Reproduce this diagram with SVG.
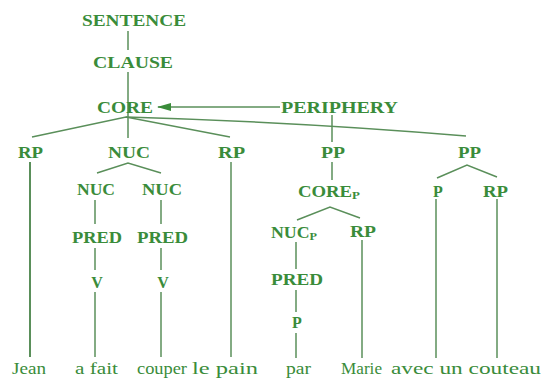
<svg xmlns="http://www.w3.org/2000/svg" width="546" height="379" viewBox="0 0 546 379">
<defs>
<style>
.lbl{font-family:"Liberation Serif","Times New Roman",serif;font-weight:bold;font-size:16px;fill:#3a8c3a;}
.wrd{font-family:"Liberation Serif","Times New Roman",serif;font-size:17px;fill:#3a8c3a;}
.sub{font-size:11px;}
.ln{stroke:#5a8f5a;stroke-width:1.5;fill:none;}
</style>
<marker id="ah" markerWidth="14" markerHeight="8" refX="13" refY="4" orient="auto" markerUnits="userSpaceOnUse">
<path d="M0,0 L14,4 L0,8 Z" fill="#3a8c3a"/>
</marker>
</defs>
<rect width="546" height="379" fill="#ffffff"/>
<g id="connectors">
<line class="ln" x1="128" y1="31" x2="128" y2="50"/>
<line class="ln" x1="128" y1="72" x2="128" y2="138"/>
<path class="ln" d="M32,137 L126,117 L230,137"/>
<path class="ln" d="M126,117 Q300,122 466,136"/>
<line class="ln" x1="280" y1="107" x2="158" y2="107" marker-end="url(#ah)"/>
<line class="ln" x1="332" y1="115" x2="332" y2="142"/>
<line class="ln" x1="30" y1="162" x2="30" y2="357" style="stroke-width:2"/>
<path class="ln" d="M97,173 L128,163 L161,173"/>
<line class="ln" x1="95" y1="200" x2="95" y2="224"/>
<line class="ln" x1="95" y1="248" x2="95" y2="270"/>
<line class="ln" x1="95" y1="292" x2="95" y2="357"/>
<line class="ln" x1="161" y1="200" x2="161" y2="224"/>
<line class="ln" x1="161" y1="248" x2="161" y2="270"/>
<line class="ln" x1="161" y1="292" x2="161" y2="357"/>
<line class="ln" x1="231" y1="162" x2="231" y2="357"/>
<line class="ln" x1="332" y1="162" x2="332" y2="180"/>
<path class="ln" d="M297,220 L330,207 L360,218"/>
<line class="ln" x1="296" y1="242" x2="296" y2="269"/>
<line class="ln" x1="296" y1="290" x2="296" y2="312"/>
<line class="ln" x1="296" y1="333" x2="296" y2="358"/>
<line class="ln" x1="362" y1="240" x2="362" y2="358"/>
<path class="ln" d="M437,178 L467,165 L497,177"/>
<line class="ln" x1="436" y1="199" x2="436" y2="358"/>
<line class="ln" x1="497" y1="199" x2="497" y2="358"/>
</g>
<g id="sentence"><text class="lbl" x="82" y="26" textLength="104" lengthAdjust="spacingAndGlyphs">SENTENCE</text></g>
<g id="clause"><text class="lbl" x="93" y="68" textLength="80" lengthAdjust="spacingAndGlyphs">CLAUSE</text></g>
<g id="core"><text class="lbl" x="97" y="113" textLength="56" lengthAdjust="spacingAndGlyphs">CORE</text></g>
<g id="periphery"><text class="lbl" x="281" y="113" textLength="117" lengthAdjust="spacingAndGlyphs">PERIPHERY</text></g>
<g id="rp1"><text class="lbl" x="18" y="158" textLength="25" lengthAdjust="spacingAndGlyphs">RP</text></g>
<g id="nuc"><text class="lbl" x="108" y="158" textLength="42" lengthAdjust="spacingAndGlyphs">NUC</text></g>
<g id="rp2"><text class="lbl" x="218" y="158" textLength="27" lengthAdjust="spacingAndGlyphs">RP</text></g>
<g id="pp1"><text class="lbl" x="321" y="158" textLength="24" lengthAdjust="spacingAndGlyphs">PP</text></g>
<g id="pp2"><text class="lbl" x="458" y="158" textLength="23" lengthAdjust="spacingAndGlyphs">PP</text></g>
<g id="nuc1"><text class="lbl" x="77" y="195" textLength="38" lengthAdjust="spacingAndGlyphs">NUC</text></g>
<g id="nuc2"><text class="lbl" x="142" y="195" textLength="40" lengthAdjust="spacingAndGlyphs">NUC</text></g>
<g id="corep"><text class="lbl" x="298" y="197" textLength="62" lengthAdjust="spacingAndGlyphs">CORE<tspan class="sub" dy="2">P</tspan></text></g>
<g id="p1"><text class="lbl" x="438" y="197" text-anchor="middle">P</text></g>
<g id="rp3"><text class="lbl" x="483" y="197" textLength="25" lengthAdjust="spacingAndGlyphs">RP</text></g>
<g id="pred1"><text class="lbl" x="72" y="243" textLength="50" lengthAdjust="spacingAndGlyphs">PRED</text></g>
<g id="pred2"><text class="lbl" x="137" y="243" textLength="51" lengthAdjust="spacingAndGlyphs">PRED</text></g>
<g id="nucp"><text class="lbl" x="271" y="238" textLength="46" lengthAdjust="spacingAndGlyphs">NUC<tspan class="sub" dy="2">P</tspan></text></g>
<g id="rp4"><text class="lbl" x="350" y="237" textLength="26" lengthAdjust="spacingAndGlyphs">RP</text></g>
<g id="v1"><text class="lbl" x="97" y="288" text-anchor="middle">V</text></g>
<g id="v2"><text class="lbl" x="163" y="288" text-anchor="middle">V</text></g>
<g id="pred3"><text class="lbl" x="271" y="285" textLength="52" lengthAdjust="spacingAndGlyphs">PRED</text></g>
<g id="p2"><text class="lbl" x="297" y="328" text-anchor="middle">P</text></g>
<g id="words">
<text class="wrd" x="12" y="374" textLength="34" lengthAdjust="spacingAndGlyphs">Jean</text>
<text class="wrd" x="75" y="374" textLength="43" lengthAdjust="spacingAndGlyphs">a fait</text>
<text class="wrd" x="137" y="374" textLength="50" lengthAdjust="spacingAndGlyphs">couper</text>
<text class="wrd" x="192" y="374" textLength="66" lengthAdjust="spacingAndGlyphs">le pain</text>
<text class="wrd" x="286" y="374" textLength="25" lengthAdjust="spacingAndGlyphs">par</text>
<text class="wrd" x="341" y="374" textLength="41" lengthAdjust="spacingAndGlyphs">Marie</text>
<text class="wrd" x="391" y="374" textLength="150" lengthAdjust="spacingAndGlyphs">avec un couteau</text>
</g>
</svg>
